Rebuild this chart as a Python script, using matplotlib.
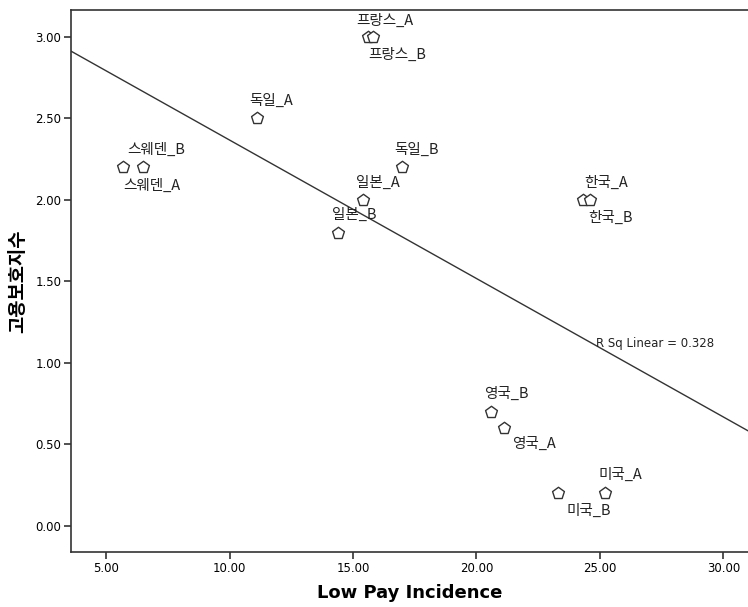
import numpy as np
import matplotlib.pyplot as plt

# 데이터
labels = ["스웨덴_A", "스웨덴_B", "프랑스_A", "프랑스_B", "독일_A", "독일_B",
          "일본_A", "일본_B", "한국_A", "한국_B", "영국_A", "영국_B",
          "미국_A", "미국_B"]
low_pay = [6.5, 5.7, 15.6, 15.8, 11.1, 17.0,
           15.4, 14.4, 24.3, 24.6, 21.1, 20.6,
           25.2, 23.3]
protect = [2.2, 2.2, 3.0, 3.0, 2.5, 2.2,
           2.0, 1.8, 2.0, 2.0, 0.6, 0.7,
           0.2, 0.2]
x_ticks = [5, 10, 15, 20, 25, 30]
y_ticks = [0.0, 0.5, 1.0, 1.5, 2.0, 2.5, 3.0]

# 라벨 위치 (points 단위 오프셋)
label_offsets = {
    "스웨덴_A": (-14, -13), "스웨덴_B": (3, 12.5),
    "프랑스_A": (-8, 12), "프랑스_B": (-3, -13),
    "독일_A": (-5, 12.5), "독일_B": (-6, 12.5),
    "일본_A": (-5, 12.5), "일본_B": (-4.5, 12.5),
    "한국_A": (1, 12.5), "한국_B": (-1, -13),
    "영국_A": (6, -11), "영국_B": (-5, 13),
    "미국_A": (-4.5, 13), "미국_B": (6, -12.5),
}

plt.rcParams["font.family"] = ["Noto Sans CJK KR", "DejaVu Sans"]


def main():
    fig = plt.figure(figsize=(7.48, 6.07), dpi=100)
    ax = fig.add_axes([71 / 748, 1 - 552 / 607, 677 / 748, 542 / 607])

    ax.scatter(low_pay, protect, marker="p", s=80, facecolor="white",
               edgecolor="#333333", linewidth=1.0, zorder=3)

    for name, x, y in zip(labels, low_pay, protect):
        dx, dy = label_offsets[name]
        ax.annotate(name, (x, y), xytext=(dx, dy), textcoords="offset points",
                    fontsize=10.5, va="center", ha="left", color="#222222")

    # 선형 회귀선
    slope, inter = np.polyfit(low_pay, protect, 1)
    xs = np.array([3.58, 31.0])
    ax.plot(xs, slope * xs + inter, color="#333333", linewidth=1.0, zorder=2)
    ax.text(24.85, 1.12, "R Sq Linear = 0.328", fontsize=8.5,
            family="DejaVu Sans", va="center", color="#222222")

    ax.set_xlim(3.58, 31.0)
    ax.set_ylim(-0.161, 3.166)
    ax.set_xticks(x_ticks)
    ax.set_yticks(y_ticks)
    ax.set_xticklabels(["%.2f" % v for v in x_ticks], family="DejaVu Sans", fontsize=8.5)
    ax.set_yticklabels(["%.2f" % v for v in y_ticks], family="DejaVu Sans", fontsize=8.5)
    ax.tick_params(direction="out", length=5, width=1.2, color="#333333", pad=2)

    ax.spines["right"].set_visible(False)
    for s in ["left", "bottom", "top"]:
        ax.spines[s].set_linewidth(1.2)
        ax.spines[s].set_color("#333333")

    ax.set_xlabel("Low Pay Incidence", family="DejaVu Sans", fontsize=13,
                  fontweight="bold", labelpad=7)
    ax.set_ylabel("고용보호지수", fontsize=13.5, fontweight="bold", labelpad=6)

    fig.savefig("out.png", dpi=100)


if __name__ == '__main__':
    main()
